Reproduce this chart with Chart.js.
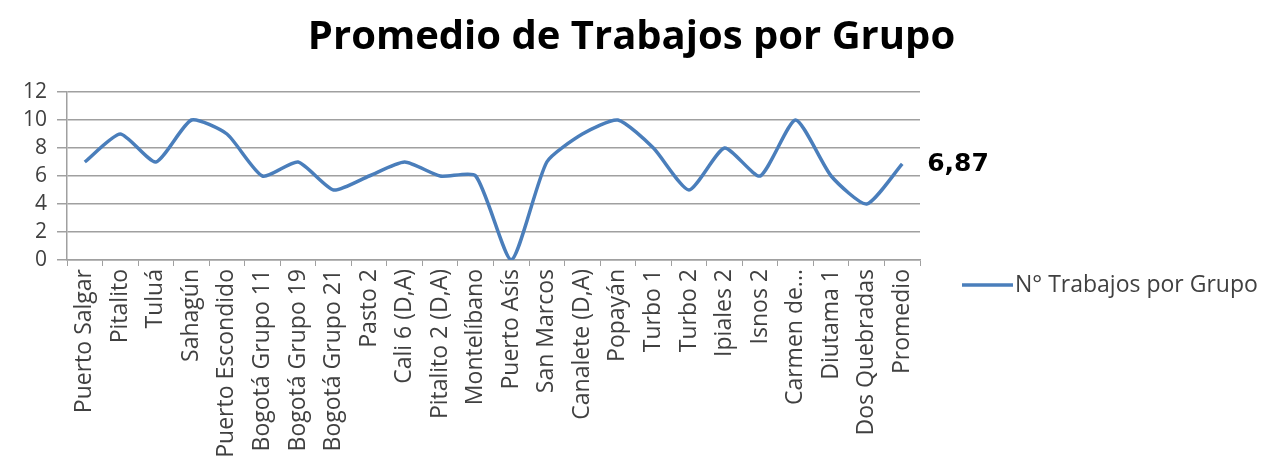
<!DOCTYPE html>
<html>
<head>
<meta charset="utf-8">
<script src="https://cdn.jsdelivr.net/npm/chart.js@4"></script>
<style>
  html, body { margin: 0; padding: 0; background: #fff; }
  #wrap { width: 1263px; height: 473px; }
</style>
</head>
<body>
<div id="wrap"><canvas id="grupoChart"></canvas></div>
<script>
// Chart data
const categorias = [
  'Puerto Salgar', 'Pitalito', 'Tuluá', 'Sahagún', 'Puerto Escondido',
  'Bogotá Grupo 11', 'Bogotá Grupo 19', 'Bogotá Grupo 21', 'Pasto 2',
  'Cali 6 (D,A)', 'Pitalito 2 (D,A)', 'Montelíbano', 'Puerto Asís',
  'San Marcos', 'Canalete (D,A)', 'Popayán', 'Turbo 1', 'Turbo 2',
  'Ipiales 2', 'Isnos 2', 'Carmen de...', 'Diutama 1', 'Dos Quebradas',
  'Promedio'
];
const trabajos = [7, 9, 7, 10, 9, 6, 7, 5, 6, 7, 6, 6, 0, 7, 9, 10, 8, 5, 8, 6, 10, 6, 4, 6.87];
const yTicks = [0, 2, 4, 6, 8, 10, 12];
const serieNombre = 'N° Trabajos por Grupo';
const etiquetaFinal = '6,87';

const lineColor = '#4a7ebb';
const textColor = '#404040';
const gridColor = '#a0a0a0';

// Draws the legend and the label on the last point
const extrasPlugin = {
  id: 'extras',
  afterDraw(chart) {
    const ctx = chart.ctx;
    const meta = chart.getDatasetMeta(0);
    const last = meta.data[meta.data.length - 1];
    ctx.save();
    // last value label
    ctx.fillStyle = '#000';
    ctx.font = 'bold 25px "DejaVu Sans"';
    ctx.textBaseline = 'middle';
    ctx.textAlign = 'left';
    ctx.fillText(etiquetaFinal, last.x + 25, last.y + 1);
    // legend
    const lx = chart.chartArea.right + 42;
    const ly = chart.chartArea.bottom + 25;
    ctx.strokeStyle = lineColor;
    ctx.lineWidth = 3.5;
    ctx.beginPath();
    ctx.moveTo(lx, ly);
    ctx.lineTo(lx + 51, ly);
    ctx.stroke();
    ctx.fillStyle = textColor;
    ctx.font = '23px "Open Sans"';
    ctx.fillText(serieNombre, lx + 53, ly);
    ctx.restore();
  }
};

const chart = new Chart(document.getElementById('grupoChart'), {
  type: 'line',
  data: {
    labels: categorias,
    datasets: [{
      label: serieNombre,
      data: trabajos,
      borderColor: lineColor,
      borderWidth: 3.5,
      tension: 0.2,
      pointRadius: 0,
      fill: false
    }]
  },
  options: {
    responsive: true,
    maintainAspectRatio: false,
    animation: false,
    layout: {
      padding: 0
    },
    plugins: {
      legend: { display: false },
      tooltip: { enabled: false },
      title: {
        display: true,
        text: 'Promedio de Trabajos por Grupo',
        color: '#000',
        font: { family: '"Open Sans"', size: 40, weight: 'bold', lineHeight: 1.2 },
        padding: { top: 14, bottom: 30 }
      }
    },
    scales: {
      x: {
        offset: true,
        grid: {
          display: true,
          drawOnChartArea: false,
          drawTicks: true,
          tickLength: 6,
          offset: true,
          color: gridColor
        },
        border: { color: gridColor, width: 1.5 },
        ticks: {
          autoSkip: false,
          maxRotation: 90,
          minRotation: 90,
          color: textColor,
          font: { family: '"Open Sans"', size: 23 },
          padding: 3
        },
        afterFit(scale) { scale.height = 213; }
      },
      y: {
        min: 0,
        max: 12,
        afterBuildTicks(scale) {
          scale.ticks = yTicks.map(v => ({ value: v }));
        },
        grid: {
          color: gridColor,
          lineWidth: 1.5,
          tickLength: 10
        },
        border: { color: gridColor, width: 1.5 },
        ticks: {
          autoSkip: false,
          color: textColor,
          font: { family: '"Open Sans"', size: 21, lineHeight: 1 },
          padding: 10
        },
        afterFit(scale) { scale.width = 67; }
      },
      // empty axis on the right to hold room for the legend
      espacio: {
        type: 'linear',
        position: 'right',
        grid: { display: false },
        border: { display: false },
        ticks: { display: false },
        afterFit(scale) { scale.width = 343; }
      }
    }
  },
  plugins: [extrasPlugin]
});
</script>
</body>
</html>
